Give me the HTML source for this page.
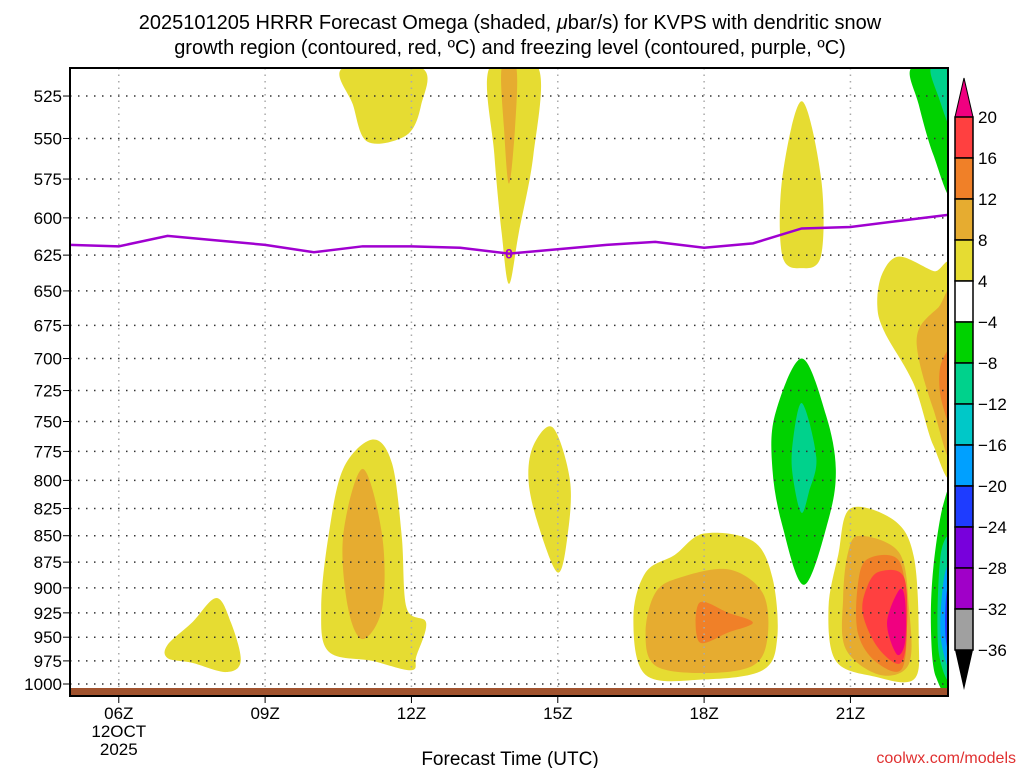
<!DOCTYPE html>
<html><head><meta charset="utf-8"><style>
body{margin:0;background:#fff;width:1024px;height:768px;overflow:hidden}
svg{display:block}
text{font-family:"Liberation Sans",sans-serif;fill:#000}
</style></head><body>
<svg id="c" width="1024" height="768" xmlns="http://www.w3.org/2000/svg">
<text x="510" y="29" font-size="20" text-anchor="middle">2025101205 HRRR Forecast Omega (shaded, <tspan font-style="italic">μ</tspan>bar/s) for KVPS with dendritic snow</text>
<text x="510" y="54" font-size="20" text-anchor="middle">growth region (contoured, red, ºC) and freezing level (contoured, purple, ºC)</text>
<g id="shade"></g>
<g id="grid"></g>
<g id="frz"></g>
<rect x="70" y="688" width="878" height="7" fill="#a0522d"/>
<rect x="70" y="68" width="878" height="628" fill="none" stroke="#000" stroke-width="2"/>
<g id="yax"></g>
<g id="xax"></g>
<g id="cbar"></g>
<text x="510" y="765" font-size="19" text-anchor="middle">Forecast Time (UTC)</text>
<text x="1016" y="763" font-size="16" text-anchor="end" style="fill:#e03030">coolwx.com/models</text>
</svg>
<script>
const pLevels=[525,550,575,600,625,650,675,700,725,750,775,800,825,850,875,900,925,950,975,1000];
const xHours=[6,9,12,15,18,21];
const xLabels=["06Z","09Z","12Z","15Z","18Z","21Z"];
const frzHours=[5,6,7,8,9,10,11,12,13,14,15,16,17,18,19,20,21,22,23];
const frzP=[618,619,612,615,618,623,619,619,620,624,621,618,616,620,617,607,606,602,598];
const cbLevels=[20,16,12,8,4,-4,-8,-12,-16,-20,-24,-28,-32,-36];
const cbColors=["#ff4040","#f08028","#e6ac30","#e6dc32","#ffffff","#00d200","#00d28c","#00c8c8","#00a0ff","#1e3cff","#7800dc","#a000c8","#a0a0a0"];
const COL={y:"#e6dc32",lo:"#e6ac30",o:"#f08028",r:"#ff4040",m:"#f00080",g:"#00d200",t:"#00d28c",c:"#00c8c8",lb:"#00a0ff",b:"#1e3cff"};
const blobLevels=["y","y","y","lo","y","g","t","y","lo","o","g","t","y","lo","o","r","m","g","t","lb","b","y","lo","o","y","y","lo","y"];
const blobs=[
[[10.6,509],[12.2,509],[12.2,530],[11.9,548],[11.1,552],[10.8,530]],
[[13.6,509],[14.6,509],[14.5,560],[14.2,610],[14.0,645],[13.85,610],[13.7,560]],
[[20.0,528],[20.4,575],[20.4,625],[20.0,634],[19.6,625],[19.6,575]],
[[13.85,509],[14.15,509],[14.12,545],[14.0,578],[13.9,545]],
[[22.0,626],[22.7,636],[23.1,640],[23.1,790],[22.7,770],[22.3,720],[21.7,680],[21.55,660],[21.65,638]],
[[22.25,509],[23.1,509],[23.1,585],[22.7,560],[22.4,530]],
[[22.65,509],[23.1,509],[23.1,545],[22.8,525]],
[[21.0,825],[21.9,836],[22.3,870],[22.4,950],[22.3,995],[21.5,992],[20.7,975],[20.55,920],[20.75,868]],
[[21.2,850],[22.0,866],[22.2,920],[22.2,978],[21.6,990],[20.9,962],[20.85,910],[20.95,866]],
[[21.35,872],[22.0,874],[22.15,930],[22.05,984],[21.5,975],[21.15,945],[21.15,898]],
[[20.0,700],[20.5,745],[20.7,790],[20.55,835],[20.05,897],[19.6,840],[19.4,790],[19.45,745]],
[[20.0,735],[20.3,780],[20.15,810],[20.0,829],[19.85,805],[19.8,775]],
[[17.4,868],[18.0,848],[19.0,855],[19.4,890],[19.5,950],[19.2,985],[18.0,995],[16.8,990],[16.55,930],[16.8,885]],
[[17.5,890],[18.5,882],[19.2,905],[19.3,950],[19.0,980],[18.0,988],[17.0,980],[16.8,945],[17.0,905]],
[[17.9,915],[18.5,925],[19.0,935],[18.5,945],[17.9,955]],
[[21.6,884],[22.1,890],[22.15,950],[22.0,978],[21.55,960],[21.25,925],[21.35,898]],
[[22.0,902],[22.12,912],[22.12,955],[21.95,968],[21.75,935]],
[[22.9,822],[23.1,818],[23.1,1000],[22.75,992],[22.65,940],[22.7,880]],
[[22.85,868],[23.1,860],[23.1,992],[22.8,962]],
[[22.92,890],[23.1,880],[23.1,985],[22.85,950]],
[[22.97,905],[23.1,900],[23.1,975],[22.95,950]],
[[14.9,755],[15.25,800],[15.2,850],[15.0,885],[14.6,840],[14.4,800],[14.5,770]],
[[22.4,678],[22.8,662],[23.1,655],[23.1,780],[22.7,740],[22.4,700]],
[[22.85,705],[23.1,695],[23.1,755],[22.85,730]],
[[11.2,765],[11.6,785],[11.8,850],[11.9,920],[12.3,935],[12.1,970],[12.0,985],[11.2,975],[10.3,965],[10.15,920],[10.3,850],[10.6,790]],
[[8.0,910],[8.3,935],[8.5,975],[8.2,987],[7.5,977],[7.0,972],[7.0,958],[7.5,935]],
[[11.0,790],[11.4,850],[11.4,920],[11.0,952],[10.7,920],[10.6,850]],
[[13.6,509],[13.6,509],[13.6,509]]
];
const X0=70,X1=948,H0=5,H1=23,Y1000=684,K=912.5;
const xs=h=>X0+(h-H0)*(X1-X0)/(H1-H0);
const ys=p=>Y1000-K*Math.log(1000/p);
const NS="http://www.w3.org/2000/svg";
function mk(t,a,par){const e=document.createElementNS(NS,t);for(const k in a)e.setAttribute(k,a[k]);par.appendChild(e);return e;}
function smooth(pts){const n=pts.length;let d=`M${pts[0][0]},${pts[0][1]}`;for(let i=0;i<n;i++){const p0=pts[(i-1+n)%n],p1=pts[i],p2=pts[(i+1)%n],p3=pts[(i+2)%n];const c1=[p1[0]+(p2[0]-p0[0])/6,p1[1]+(p2[1]-p0[1])/6],c2=[p2[0]-(p3[0]-p1[0])/6,p2[1]-(p3[1]-p1[1])/6];d+=`C${c1[0]},${c1[1]} ${c2[0]},${c2[1]} ${p2[0]},${p2[1]}`;}return d+"Z";}
const svg=document.getElementById('c');
const defs=mk('defs',{},svg);const cp=mk('clipPath',{id:'pc'},defs);mk('rect',{x:X0,y:68,width:X1-X0,height:628},cp);
const shade=document.getElementById('shade');shade.setAttribute('clip-path','url(#pc)');
const order=[0,1,3,2,5,6,4,22,23,7,8,9,15,16,10,11,12,13,14,17,18,19,20,21,24,26,25];
order.forEach(i=>{const pts=blobs[i].map(q=>[xs(q[0]),ys(q[1])]);
const el=mk('path',{d:smooth(pts),fill:COL[blobLevels[i]]},shade);

});
const grid=document.getElementById('grid'),yax=document.getElementById('yax'),xax=document.getElementById('xax');
pLevels.forEach(p=>{const y=ys(p);
const l=mk('line',{x1:X0,x2:X1,y1:y,y2:y,stroke:'#333','stroke-width':1.5,'stroke-dasharray':'1.5 6.5'},grid);

mk('line',{x1:X0-7,x2:X0,y1:y,y2:y,stroke:'#000'},yax);
const t=mk('text',{x:X0-8,y:y+6,'font-size':17,'text-anchor':'end'},yax);t.textContent=p;
});
xHours.forEach((h,i)=>{const x=xs(h);
const l=mk('line',{x1:x,x2:x,y1:68,y2:696,stroke:'#aaa','stroke-width':1.5,'stroke-dasharray':'1.5 5'},grid);

mk('line',{x1:x,x2:x,y1:696,y2:703,stroke:'#000'},xax);
const t=mk('text',{x:x,y:719,'font-size':17,'text-anchor':'middle'},xax);t.textContent=xLabels[i];
});
[["12OCT",737],["2025",755]].forEach(a=>{const t=mk('text',{x:xs(6),y:a[1],'font-size':17,'text-anchor':'middle'},xax);t.textContent=a[0];
});
const frz=document.getElementById('frz');
const fl=mk('polyline',{points:frzHours.map((h,i)=>xs(h)+','+ys(frzP[i])).join(' '),fill:'none',stroke:'#a000d0','stroke-width':2.5},frz);

const fi=frzHours.indexOf(14);
const ft=mk('text',{x:xs(14),y:ys(frzP[fi])+5,'font-size':14,'text-anchor':'middle','font-weight':'bold',style:'fill:#a000d0'},frz);ft.textContent='0';

const cb=document.getElementById('cbar');const CX=955,CW=18,CT=117,CB=650;const step=(CB-CT)/(cbLevels.length-1);
const up=mk('polygon',{points:`${CX},${CT} ${CX+CW/2},78 ${CX+CW},${CT}`,fill:'#f00080',stroke:'#000'},cb);

cbColors.forEach((c,i)=>{const r=mk('rect',{x:CX,y:CT+i*step,width:CW,height:step,fill:c,stroke:'#000','stroke-width':1.5},cb);
});
const dn=mk('polygon',{points:`${CX},${CB} ${CX+CW/2},690 ${CX+CW},${CB}`,fill:'#000'},cb);

cbLevels.forEach((v,i)=>{const t=mk('text',{x:CX+CW+5,y:CT+i*step+6,'font-size':17},cb);t.textContent=v<0?'−'+(-v):v;
});
</script>
</body></html>
